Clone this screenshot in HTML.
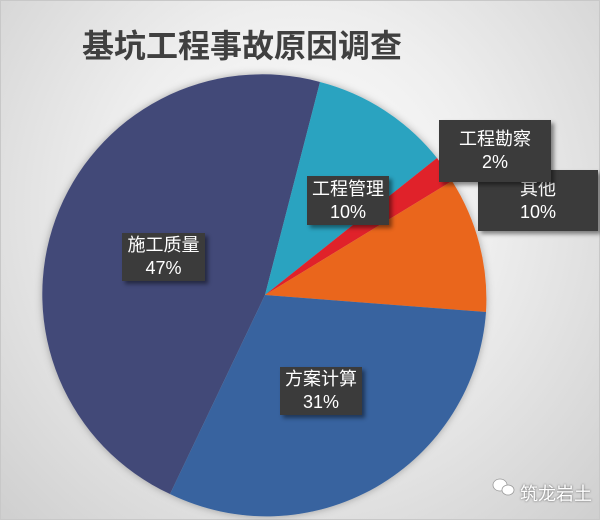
<!DOCTYPE html>
<html><head><meta charset="utf-8"><style>
body{margin:0;width:600px;height:520px;overflow:hidden;font-family:"Liberation Sans","Noto Sans CJK SC",sans-serif}
#bg{position:absolute;left:0;top:0;width:598px;height:518px;border:1px solid #c8c8c8;background:radial-gradient(ellipse at 50% 40%,#ffffff 0%,#eeeeee 45%,#cfcfcf 100%)}
.t{position:absolute;left:82px;top:21px;font-size:32px;font-weight:bold;color:#404040;letter-spacing:0px}
.l{position:absolute;background:#3b3b3b;color:#fff;font-size:18px;line-height:23px;text-align:center;box-shadow:3px 3px 4px rgba(0,0,0,.45);display:flex;flex-direction:column;justify-content:center}
.w{position:absolute;left:520px;top:480px;font-size:18px;color:#fff;text-shadow:0 0 2px #555}
</style></head><body>
<div id="bg"></div>
<svg style="position:absolute;left:0;top:0" width="600" height="520">
<defs><filter id="s"><feDropShadow dx="0" dy="0" stdDeviation="4" flood-opacity="0.3"/></filter></defs>
<g filter="url(#s)">
<path d="M265,295 L170,494 A220,220 0 0 1 320,82 Z" fill="#434a78"/>
<path d="M265,295 L320,82 A220,220 0 0 1 437,158 Z" fill="#2ba3c0"/>
<path d="M265,295 L437,158 A220,220 0 0 1 452,181 Z" fill="#e0202a"/>
<path d="M265,295 L452,181 A220,220 0 0 1 486,312 Z" fill="#ea661e"/>
<path d="M265,295 L486,312 A220,220 0 0 1 170,494 Z" fill="#38649f"/>
</g>
<g transform="translate(500,485)" fill="#fff" stroke="#999" stroke-width="0.8"><ellipse cx="0" cy="0" rx="7" ry="6"/><ellipse cx="8" cy="5" rx="6" ry="5"/></g>
</svg>
<div class="t">基坑工程事故原因调查</div>
<div class="l" style="left:122px;top:233px;width:83px;height:48px">施工质量<br>47%</div>
<div class="l" style="left:307px;top:176px;width:82px;height:49px">工程管理<br>10%</div>
<div class="l" style="left:478px;top:170px;width:120px;height:61px">其他<br>10%</div>
<div class="l" style="left:439px;top:120px;width:112px;height:62px">工程勘察<br>2%</div>
<div class="l" style="left:280px;top:367px;width:82px;height:48px">方案计算<br>31%</div>
<div class="w">筑龙岩土</div>
</body></html>
